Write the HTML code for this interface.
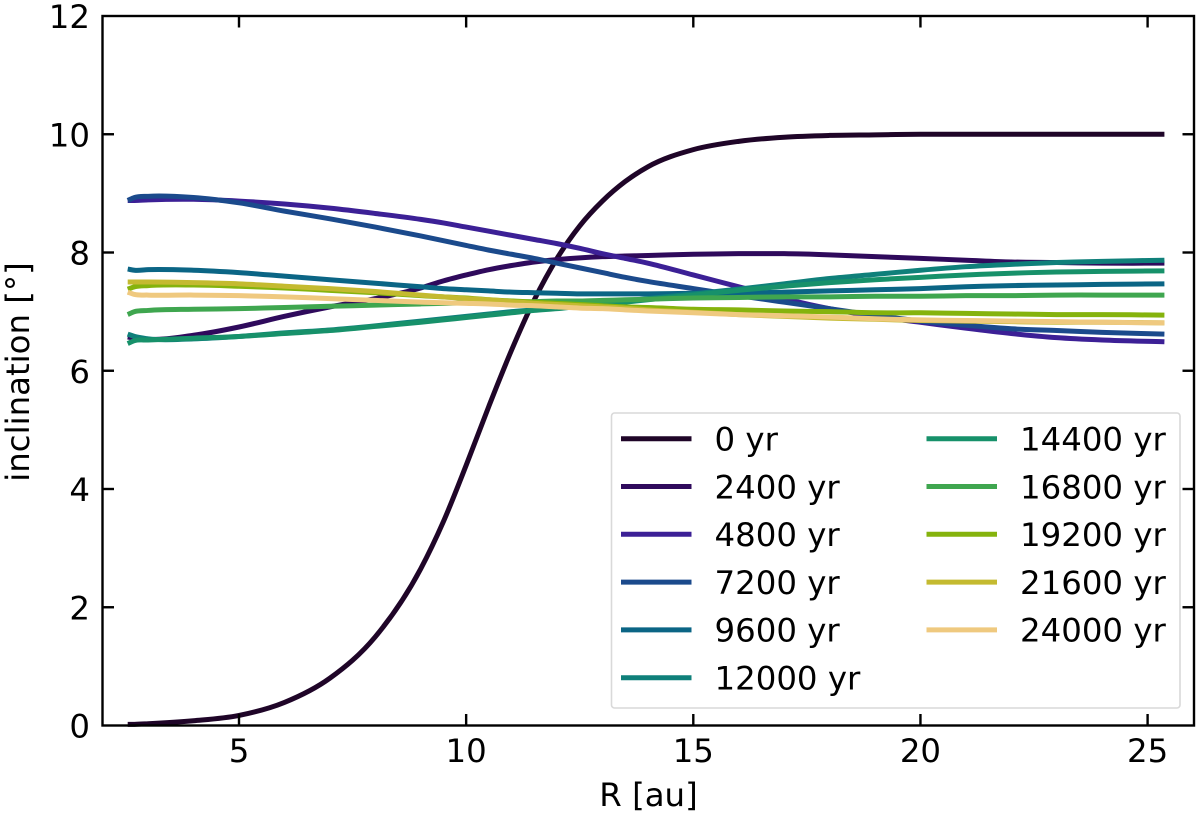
<!DOCTYPE html>
<html lang="en">
<head>
<meta charset="utf-8">
<title>Inclination vs radius</title>
<style>
  html, body { margin: 0; padding: 0; background: #fff; }
  svg { display: block; filter: blur(0.35px); }
  text { font-family: "DejaVu Sans", "Liberation Sans", sans-serif; fill: #000; }
</style>
</head>
<body>
<svg id="chart" xmlns="http://www.w3.org/2000/svg" width="1200" height="816" viewBox="0 0 1200 816"></svg>
<script>
const radii = [2.55,2.7,3,4,5,6,7,8,9,9.5,10,10.5,11,11.5,12,12.5,13,13.5,14,15,16,17,18,19,20,21,22,23,24,25.37];
const seriesLabels = ["0 yr","2400 yr","4800 yr","7200 yr","9600 yr","12000 yr","14400 yr","16800 yr","19200 yr","21600 yr","24000 yr"];
const inc0 = [.02,.02,.03,.08,.17,.39,.8,1.5,2.65,3.45,4.4,5.4,6.35,7.2,7.9,8.45,8.87,9.2,9.45,9.74,9.88,9.95,9.98,9.99,10,10,10,10,10,10];
const inc2400 = [6.57,6.55,6.53,6.6,6.74,6.92,7.08,7.22,7.4,7.52,7.62,7.71,7.78,7.84,7.88,7.91,7.93,7.94,7.95,7.97,7.98,7.98,7.96,7.93,7.9,7.87,7.84,7.83,7.82,7.82];
const inc4800 = [8.88,8.88,8.89,8.9,8.87,8.82,8.75,8.66,8.56,8.5,8.43,8.36,8.29,8.22,8.15,8.07,7.98,7.9,7.82,7.62,7.42,7.22,7.05,6.92,6.82,6.72,6.63,6.56,6.52,6.49];
const inc7200 = [8.88,8.93,8.95,8.93,8.84,8.7,8.57,8.43,8.28,8.2,8.12,8.04,7.97,7.9,7.82,7.74,7.66,7.58,7.51,7.39,7.27,7.16,7.05,6.94,6.84,6.77,6.71,6.68,6.65,6.62];
const inc9600 = [7.72,7.7,7.71,7.7,7.66,7.6,7.54,7.48,7.42,7.39,7.37,7.35,7.33,7.32,7.31,7.3,7.3,7.3,7.3,7.31,7.31,7.33,7.35,7.37,7.39,7.42,7.44,7.45,7.46,7.47];
const inc12000 = [6.62,6.58,6.54,6.54,6.58,6.64,6.69,6.76,6.84,6.88,6.92,6.96,7.0,7.03,7.07,7.11,7.14,7.18,7.22,7.3,7.38,7.47,7.56,7.63,7.7,7.76,7.8,7.83,7.85,7.87];
const inc14400 = [6.46,6.51,6.52,6.55,6.58,6.63,6.68,6.75,6.82,6.86,6.9,6.94,6.98,7.02,7.05,7.09,7.12,7.16,7.2,7.28,7.36,7.43,7.49,7.54,7.58,7.62,7.65,7.67,7.68,7.69];
const inc16800 = [6.95,7.0,7.02,7.04,7.05,7.07,7.09,7.11,7.13,7.14,7.15,7.16,7.16,7.17,7.18,7.18,7.19,7.2,7.21,7.23,7.24,7.25,7.25,7.26,7.26,7.27,7.27,7.28,7.28,7.28];
const inc19200 = [7.38,7.42,7.44,7.45,7.43,7.4,7.36,7.32,7.27,7.25,7.23,7.2,7.18,7.16,7.14,7.12,7.1,7.08,7.07,7.04,7.03,7.01,7.0,6.98,6.98,6.97,6.96,6.95,6.95,6.94];
const inc21600 = [7.5,7.5,7.5,7.49,7.47,7.43,7.39,7.34,7.28,7.25,7.22,7.2,7.17,7.14,7.12,7.1,7.08,7.06,7.03,6.99,6.95,6.92,6.89,6.87,6.85,6.84,6.83,6.82,6.82,6.81];
const inc24000 = [7.33,7.29,7.28,7.28,7.27,7.25,7.22,7.19,7.16,7.15,7.14,7.13,7.11,7.1,7.08,7.06,7.05,7.03,7.01,6.98,6.95,6.93,6.91,6.88,6.86,6.85,6.84,6.83,6.82,6.81];
const xTickValues = [5,10,15,20,25];
const yTickValues = [0,2,4,6,8,10,12];

const allSeries = [inc0,inc2400,inc4800,inc7200,inc9600,inc12000,inc14400,inc16800,inc19200,inc21600,inc24000];
const seriesColors = ["#1f0528","#2f0a5c","#3c2096","#1b4a8c","#0b6585","#0f807a","#17916a","#3fa64f","#85b30d","#c4ba30","#efc97f"];

const NS = "http://www.w3.org/2000/svg";
const svg = document.getElementById("chart");
const plot = { left: 102.5, right: 1194, top: 16, bottom: 725.5 };
const FONT = 32.4;

function xScale(v) { return 239 + (v - 5) * 45.43; }
function yScale(v) { return plot.bottom - v * (plot.bottom - plot.top) / 12; }

function make(tag, attrs, parent) {
  const el = document.createElementNS(NS, tag);
  for (const k in attrs) el.setAttribute(k, attrs[k]);
  (parent || svg).appendChild(el);
  return el;
}

function smoothPath(xs, ys) {
  const pts = xs.map((x, i) => [xScale(x), yScale(ys[i])]);
  const n = pts.length;
  const slope = i => {
    if (i === 0) return (pts[1][1] - pts[0][1]) / (pts[1][0] - pts[0][0]);
    if (i === n - 1) return (pts[n - 1][1] - pts[n - 2][1]) / (pts[n - 1][0] - pts[n - 2][0]);
    const h0 = pts[i][0] - pts[i - 1][0], h1 = pts[i + 1][0] - pts[i][0];
    const d0 = (pts[i][1] - pts[i - 1][1]) / h0, d1 = (pts[i + 1][1] - pts[i][1]) / h1;
    return (h1 * d0 + h0 * d1) / (h0 + h1);
  };
  let d = "M" + pts[0][0].toFixed(2) + " " + pts[0][1].toFixed(2);
  for (let i = 0; i < n - 1; i++) {
    const p1 = pts[i], p2 = pts[i + 1];
    const h = p2[0] - p1[0];
    d += "C" + (p1[0] + h / 3).toFixed(2) + " " + (p1[1] + slope(i) * h / 3).toFixed(2) + " " +
         (p2[0] - h / 3).toFixed(2) + " " + (p2[1] - slope(i + 1) * h / 3).toFixed(2) + " " +
         p2[0].toFixed(2) + " " + p2[1].toFixed(2);
  }
  return d;
}

const bg = make("rect", { x: 0, y: 0, width: 1200, height: 816, fill: "#fff" });



/* series */
const seriesGroup = make("g", { fill: "none", "stroke-width": 5, "stroke-linejoin": "round" });


allSeries.forEach((vals, i) => {
  const line = make("path", { d: smoothPath(radii, vals), stroke: seriesColors[i] }, seriesGroup);
  
  
});

/* legend */
const legend = make("g", {});


const legendBox = make("rect", { x: 611.5, y: 413, width: 568.5, height: 295, rx: 3, fill: "#fff", "fill-opacity": 0.8, stroke: "#d9d9d9", "stroke-width": 1.6 }, legend);


seriesLabels.forEach((label, i) => {
  const col = i < 6 ? 0 : 1;
  const row = i < 6 ? i : i - 6;
  const y = 438.7 + row * 47.8;
  const x0 = col === 0 ? 621 : 926.5;
  const entry = make("g", {}, legend);
  
  
  const sw = make("line", { x1: x0, x2: x0 + 70.5, y1: y, y2: y, stroke: seriesColors[i], "stroke-width": 5 }, entry);
  
  
  const t = make("text", { x: x0 + 93.5, y: y + 11.8, "font-size": FONT }, entry);
  
  
  t.textContent = label;
});

/* frame */
const frame = make("rect", { x: plot.left, y: plot.top, width: plot.right - plot.left, height: plot.bottom - plot.top, fill: "none", stroke: "#000", "stroke-width": 2.4 });



/* ticks */
const ticks = make("g", { stroke: "#000", "stroke-width": 2.4 });


const TL = 11.5;
xTickValues.forEach(v => {
  const x = xScale(v);
  const a = make("line", { x1: x, x2: x, y1: plot.bottom, y2: plot.bottom - TL }, ticks);
  
  
  const b = make("line", { x1: x, x2: x, y1: plot.top, y2: plot.top + TL }, ticks);
  
  
  const t = make("text", { x: x, y: 762, "font-size": FONT, "text-anchor": "middle", stroke: "none" });
  
  
  t.textContent = String(v);
});
yTickValues.forEach(v => {
  const y = yScale(v);
  if (v > 0 && v < 12) {
    const a = make("line", { x1: plot.left, x2: plot.left + TL, y1: y, y2: y }, ticks);
    
    
    const b = make("line", { x1: plot.right, x2: plot.right - TL, y1: y, y2: y }, ticks);
    
    
  }
  const t = make("text", { x: 90, y: y + 12.2, "font-size": FONT, "text-anchor": "end" });
  
  
  t.textContent = String(v);
});

/* axis titles */
const xTitle = make("text", { x: 648.5, y: 806, "font-size": FONT, "text-anchor": "middle" });


xTitle.textContent = "R [au]";
const yTitle = make("text", { x: 0, y: 0, "font-size": FONT, "text-anchor": "middle", transform: "translate(29 372) rotate(-90)" });


yTitle.textContent = "inclination [°]";
</script>
</body>
</html>
